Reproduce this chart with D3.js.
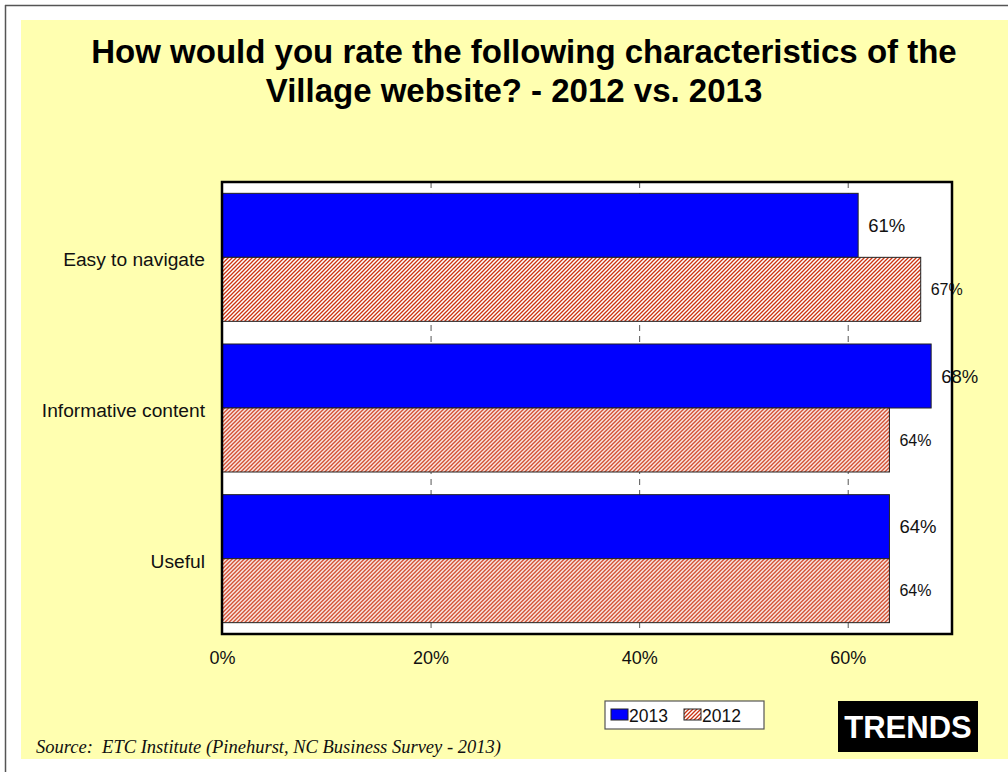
<!DOCTYPE html>
<html>
<head>
<meta charset="utf-8">
<script src="https://cdn.jsdelivr.net/npm/d3@7"></script>
<style>
  html, body { margin: 0; padding: 0; background: #ffffff; }
  svg { display: block; font-family: "Liberation Sans", Arial, sans-serif; }
</style>
</head>
<body>
<svg id="chart" width="1008" height="772"></svg>
<script>
// Survey results: share of respondents rating each website characteristic positively
const categories = ["Easy to navigate", "Informative content", "Useful"];
const seriesNames = ["2013", "2012"];
const values2013 = [61, 68, 64];
const values2012 = [67, 64, 64];
const tickValues = [0, 20, 40, 60];
const titleLines = [
  "How would you rate the following characteristics of the",
  "Village website? - 2012 vs. 2013"
];
const sourceText = "Source:  ETC Institute (Pinehurst, NC Business Survey - 2013)";
const badgeText = "TRENDS";

const svg = d3.select("#chart");

// hatch pattern for the 2012 bars
const defs = svg.append("defs");
const pat = defs.append("pattern")
  .attr("id", "hatch")
  .attr("patternUnits", "userSpaceOnUse")
  .attr("width", 4).attr("height", 4);
pat.append("rect").attr("width", 4).attr("height", 4).attr("fill", "#ffffff");
pat.append("path")
  .attr("d", "M-1,1 l2,-2 M0,4 l4,-4 M3,5 l2,-2")
  .attr("stroke", "#cc3311").attr("stroke-width", 1.3);

// page frame and background
svg.append("line").attr("x1", 5).attr("y1", 5.5).attr("x2", 1008).attr("y2", 5.5)
  .attr("stroke", "#555").attr("stroke-width", 1.5);
svg.append("line").attr("x1", 5.5).attr("y1", 5).attr("x2", 5.5).attr("y2", 772)
  .attr("stroke", "#555").attr("stroke-width", 1.5);
svg.append("rect").attr("x", 21).attr("y", 20).attr("width", 987).attr("height", 739)
  .attr("fill", "#ffffb0");

// title
const titleX = [524, 514];
svg.append("g").selectAll("text").data(titleLines).join("text")
  .attr("x", (d, i) => titleX[i]).attr("y", (d, i) => 63 + i * 39)
  .attr("text-anchor", "middle")
  .attr("font-size", 33).attr("font-weight", "bold").attr("fill", "#000")
  .text(d => d);

// plot area
const plot = { left: 222, top: 182, right: 952, bottom: 634 };
const x = d3.scaleLinear().domain([0, 70]).range([plot.left, plot.right]);
const y = d3.scaleBand().domain(categories).range([plot.top, plot.bottom]).padding(0);
const ySub = d3.scaleBand().domain(seriesNames).range([0, y.bandwidth()])
  .paddingInner(0).paddingOuter(0.177);

svg.append("rect")
  .attr("x", plot.left).attr("y", plot.top)
  .attr("width", plot.right - plot.left).attr("height", plot.bottom - plot.top)
  .attr("fill", "#ffffff");

// dashed gridlines behind the bars
svg.append("g").selectAll("line").data(tickValues.filter(d => d > 0)).join("line")
  .attr("x1", d => x(d) + 0.5).attr("x2", d => x(d) + 0.5)
  .attr("y1", plot.top).attr("y2", plot.bottom)
  .attr("stroke", "#555").attr("stroke-width", 1)
  .attr("stroke-dasharray", "6,5");

const rows = categories.map((c, i) => ({
  cat: c,
  items: [
    { series: "2013", value: values2013[i] },
    { series: "2012", value: values2012[i] }
  ]
}));

const groups = svg.append("g").selectAll("g").data(rows).join("g")
  .attr("transform", d => `translate(0,${y(d.cat)})`);

groups.selectAll("rect").data(d => d.items).join("rect")
  .attr("x", x(0))
  .attr("y", d => ySub(d.series))
  .attr("width", d => x(d.value) - x(0))
  .attr("height", ySub.bandwidth())
  .attr("fill", d => d.series === "2013" ? "#0000ff" : "url(#hatch)")
  .attr("stroke", "#222").attr("stroke-width", 1);

groups.selectAll("text.val").data(d => d.items).join("text")
  .attr("class", "val")
  .attr("x", d => x(d.value) + 10)
  .attr("y", d => ySub(d.series) + ySub.bandwidth() / 2)
  .attr("dy", "0.36em")
  .attr("font-size", d => d.series === "2013" ? 18.5 : 16)
  .attr("fill", "#111")
  .text(d => d.value + "%");

// plot border
svg.append("rect")
  .attr("x", plot.left).attr("y", plot.top)
  .attr("width", plot.right - plot.left).attr("height", plot.bottom - plot.top)
  .attr("fill", "none").attr("stroke", "#000").attr("stroke-width", 2.5);

// category axis labels
svg.append("g").selectAll("text").data(categories).join("text")
  .attr("x", 205)
  .attr("y", d => y(d) + y.bandwidth() / 2 + 2)
  .attr("dy", "0.36em")
  .attr("text-anchor", "end")
  .attr("font-size", 19.2).attr("fill", "#111")
  .text(d => d);

// value axis
const xAxis = d3.axisBottom(x).tickValues(tickValues)
  .tickFormat(d => d + "%").tickSize(0).tickPadding(0);
const ax = svg.append("g").attr("transform", `translate(0,${plot.bottom})`).call(xAxis);
ax.select(".domain").remove();
ax.selectAll("text")
  .attr("y", 30).attr("dy", 0)
  .attr("fill", "#111")
  .style("font-size", "18px")
  .style("font-family", "'Liberation Sans', Arial, sans-serif");

// legend
const legend = svg.append("g").attr("transform", "translate(605,701)");
legend.append("rect").attr("width", 159).attr("height", 28)
  .attr("fill", "#ffffff").attr("stroke", "#555").attr("stroke-width", 1.2);
const legendX = [6, 79];
seriesNames.forEach((s, i) => {
  legend.append("rect")
    .attr("x", legendX[i]).attr("y", 8).attr("width", 17).attr("height", 11)
    .attr("fill", s === "2013" ? "#0000ff" : "url(#hatch)")
    .attr("stroke", "#222").attr("stroke-width", 1);
  legend.append("text")
    .attr("x", legendX[i] + 18).attr("y", 20.5)
    .attr("font-size", 17.5).attr("fill", "#111")
    .text(s);
});

// badge
svg.append("rect").attr("x", 838).attr("y", 701).attr("width", 140).attr("height", 51)
  .attr("fill", "#000");
svg.append("text").attr("x", 908).attr("y", 738)
  .attr("text-anchor", "middle")
  .attr("font-size", 31).attr("font-weight", "bold").attr("fill", "#fff")
  .text(badgeText);

// source note (keeps the double space after the colon)
svg.append("text").attr("x", 36).attr("y", 753)
  .style("font-family", "'Liberation Serif', 'Times New Roman', serif")
  .style("font-style", "italic").style("font-size", "18.5px")
  .style("white-space", "pre")
  .attr("fill", "#111")
  .text(sourceText);
</script>
</body>
</html>
